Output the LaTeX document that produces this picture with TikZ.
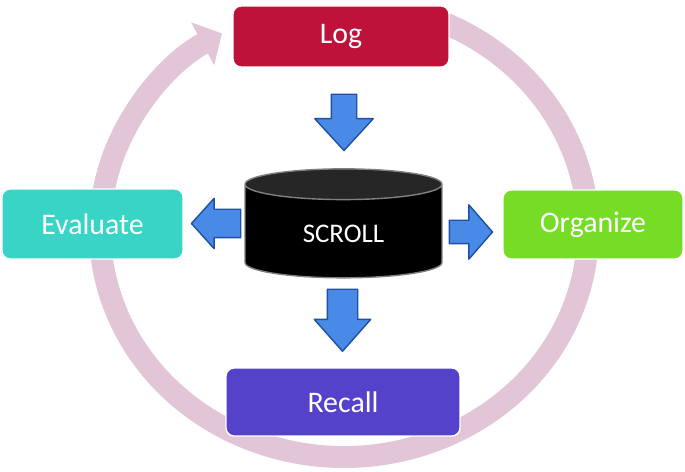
\documentclass[tikz,border=0pt]{standalone}
\usepackage{fontspec}
\setmainfont{Carlito}
\usetikzlibrary{arrows.meta,shapes.geometric,shapes.arrows}
\definecolor{logred}{RGB}{190,18,58}
\definecolor{evalteal}{RGB}{56,212,198}
\definecolor{orggreen}{RGB}{118,220,38}
\definecolor{recallblue}{RGB}{84,66,202}
\definecolor{ringpink}{RGB}{226,198,216}
\definecolor{arrowblue}{RGB}{72,138,230}
\definecolor{arrowedge}{RGB}{30,80,165}
\begin{document}
\begin{tikzpicture}[line cap=round,line join=round,>={Triangle[length=12.5pt,width=27pt]},x=0.02cm,y=0.02cm,
  box/.style={rounded corners=0.16cm,draw=white,line width=0.8pt,text=white,font=\fontsize{17}{20}\selectfont,inner sep=0pt},
  ring/.style={draw=ringpink,line width=12.5pt,line cap=butt},
  blockarrow/.style={single arrow,draw=arrowedge,fill=arrowblue,line width=0.8pt,minimum size=0pt,single arrow head indent=0pt}]
\useasboundingbox (0,0) rectangle (685,472);
% the cycle runs behind the boxes
\draw[ring,->] (344,242) ++(70:244 and 227) arc[start angle=70,end angle=-240,x radius=244,y radius=227];
\node[box,fill=logred,minimum width=4.32cm,minimum height=1.22cm] (log) at (341,435.5) {Log};
\node[box,fill=evalteal,minimum width=3.62cm,minimum height=1.4cm] (evaluate) at (92.5,248) {Evaluate};
\node[box,fill=orggreen,minimum width=3.6cm,minimum height=1.38cm] (organize) at (593,247.5) {Organize};
\node[box,fill=recallblue,minimum width=4.68cm,minimum height=1.36cm] (recall) at (343,70) {Recall};
\node[cylinder,shape border rotate=90,aspect=0.33,draw=gray,line width=0.8pt,cylinder uses custom fill,cylinder body fill=black,cylinder end fill=black!85,minimum width=3.94cm,minimum height=2.18cm,text=white,font=\fontsize{15.3}{18}\selectfont] (scroll) at (343.5,238) {SCROLL};
% block arrows
\node[blockarrow,rotate=-90,inner xsep=0.41cm,inner ysep=0.24cm,single arrow head extend=0.33cm,single arrow tip angle=85] (tologa) at (344,356.5) {};
\node[blockarrow,rotate=-90,inner xsep=0.434cm,inner ysep=0.29cm,single arrow head extend=0.26cm,single arrow tip angle=83] (torecall) at (342.5,160.3) {};
\node[blockarrow,rotate=180,inner xsep=0.351cm,inner ysep=0.27cm,single arrow head extend=0.22cm,single arrow tip angle=96] (toevaluate) at (222.5,248.5) {};
\node[blockarrow,inner xsep=0.316cm,inner ysep=0.22cm,single arrow head extend=0.31cm,single arrow tip angle=98] (toorganize) at (465.8,240) {};
\end{tikzpicture}
\end{document}
